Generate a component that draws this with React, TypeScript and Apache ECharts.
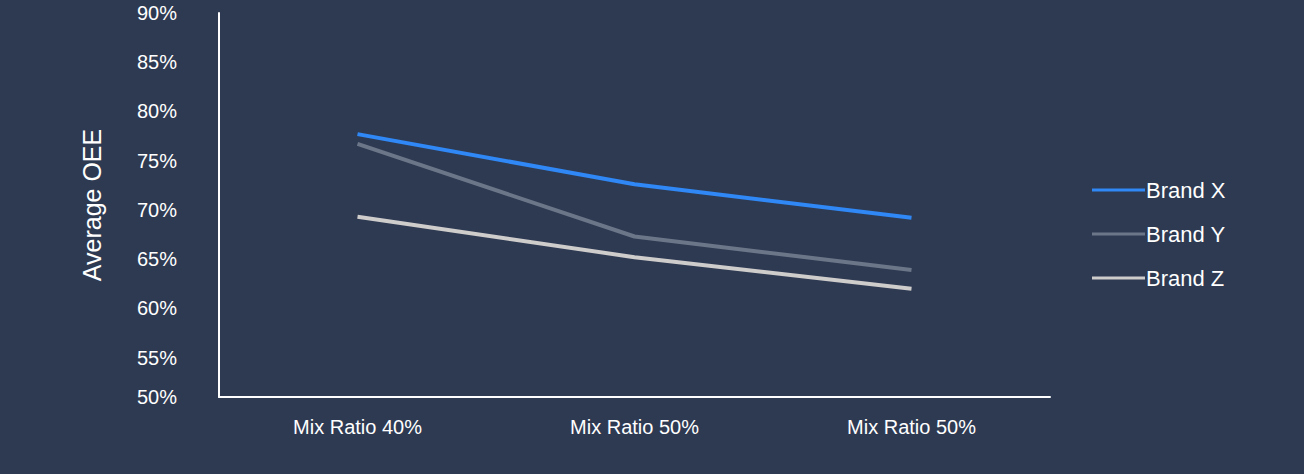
import React, { useEffect, useRef } from "react";
import * as echarts from "echarts";

const categories = ["Mix Ratio 40%", "Mix Ratio 50%", "Mix Ratio 50%"];
const brandX = [77.7, 72.6, 69.2];
const brandY = [76.7, 67.3, 63.9];
const brandZ = [69.3, 65.2, 62.0];
const yMin = 51;
const yMax = 90;

export default function App() {
  const ref = useRef<HTMLDivElement>(null);
  useEffect(() => {
    const chart = echarts.init(ref.current!, null, { renderer: "svg" });
    const lbl = { color: "#ffffff", fontSize: 20, fontFamily: "Liberation Sans, Arial, sans-serif" };
    const mk = (name: string, data: number[], color: string) => ({
      name, type: "line", data, symbol: "none",
      lineStyle: { color, width: 4 }, itemStyle: { color },
    });
    chart.setOption({
      animation: false,
      backgroundColor: "#2e3a52",
      grid: { left: 219, right: 254, top: 13, bottom: 77 },
      legend: {
        orient: "vertical", left: 1087, top: 174, itemGap: 22,
        itemWidth: 53, itemHeight: 12, icon: "path://M0,4h52v3H0z",
        textStyle: { ...lbl, fontSize: 22, color: "#ffffff", padding: [0, 0, 0, -4] },
        data: ["Brand X", "Brand Y", "Brand Z"],
      },
      xAxis: {
        type: "category", data: categories, boundaryGap: true,
        axisLine: { lineStyle: { color: "#ffffff", width: 2 } },
        axisTick: { show: false },
        axisLabel: { ...lbl, margin: 20 },
      },
      yAxis: {
        type: "value", min: yMin, max: yMax, interval: 1,
        name: "Average OEE", nameLocation: "middle", nameGap: 115,
        nameTextStyle: { ...lbl, fontSize: 25 },
        axisLine: { show: true, lineStyle: { color: "#ffffff", width: 2 } },
        axisTick: { show: false }, splitLine: { show: false },
        axisLabel: {
          ...lbl, margin: 42, align: "right",
          formatter: (v: number) => (v === yMin ? "50%" : v % 5 === 0 ? v + "%" : ""),
        },
      },
      series: [
        mk("Brand X", brandX, "#2f88f5"),
        mk("Brand Y", brandY, "#6c7689"),
        mk("Brand Z", brandZ, "#cfcccc"),
      ],
    });
    return () => chart.dispose();
  }, []);
  return <div ref={ref} style={{ position: "absolute", left: 0, top: 0, width: 1304, height: 474 }} />;
}
